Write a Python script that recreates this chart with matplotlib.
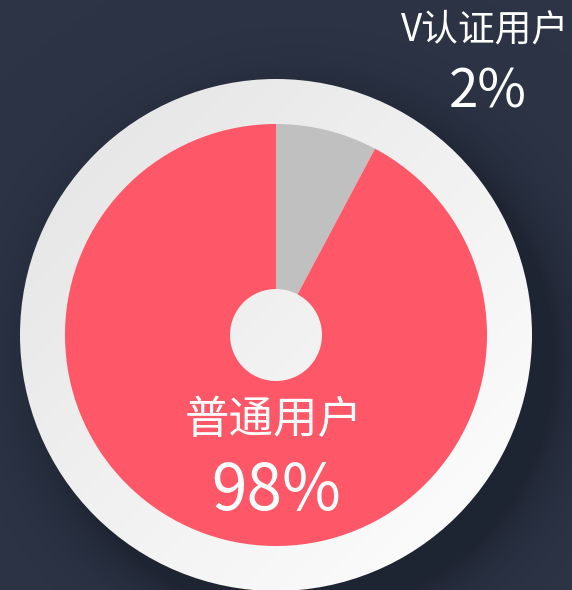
import numpy as np
import matplotlib.pyplot as plt
from matplotlib.patches import Circle

plt.rcParams['font.family'] = ['Noto Sans CJK SC', 'DejaVu Sans']

# data
labels = ['V认证用户', '普通用户']
values = [2, 98]
colors = ['#c0c0c0', '#fe5767']
min_angle = 28  # smallest slice is drawn at least this wide

W, H = 572, 590
cx, cy = 276, 590 - 335
r_outer, r_pie, r_hole = 256, 211, 46

fig = plt.figure(figsize=(W / 100, H / 100), dpi=100)
fig.patch.set_facecolor('#2c3446')
ax = fig.add_axes([0, 0, 1, 1])
ax.set_xlim(0, W)
ax.set_ylim(0, H)
ax.set_aspect('equal')
ax.axis('off')

# soft shadow to the lower right of the plate
yy, xx = np.mgrid[0:H, 0:W]
d = np.hypot(xx - (cx + 22), yy - (cy - 26)) - r_outer
shadow = np.zeros((H, W, 4))
shadow[..., :3] = np.array([22, 27, 38]) / 255
shadow[..., 3] = np.clip(0.6 * np.exp(-np.clip(d, 0, None) / 30), 0, 0.6)
ax.imshow(shadow, extent=[0, W, 0, H], origin='lower', zorder=1)

# white plate with a light gradient
g = ((xx - cx) - (yy - cy)) / (2 * r_outer)
g = np.clip(0.5 + 0.5 * g, 0, 1)
plate = np.zeros((H, W, 4))
shade = 0.89 + 0.11 * g
plate[..., 0] = shade
plate[..., 1] = shade
plate[..., 2] = shade
plate[..., 3] = 1
im = ax.imshow(plate, extent=[0, W, 0, H], origin='lower', zorder=2)
clip = Circle((cx, cy), r_outer, transform=ax.transData)
im.set_clip_path(clip)

# slice angles with a minimum angle
total = sum(values)
angles = [v / total * 360 for v in values]
small = [a < min_angle for a in angles]
fixed = sum(min_angle for s in small if s)
rest = sum(a for a, s in zip(angles, small) if not s)
angles = [min_angle if s else a * (360 - fixed) / rest for a, s in zip(angles, small)]

ax.pie(angles, colors=colors, startangle=90, counterclock=False,
       center=(cx, cy), radius=r_pie, frame=True,
       wedgeprops=dict(width=r_pie - r_hole, linewidth=0, zorder=3))
ax.set_xlim(0, W)
ax.set_ylim(0, H)
ax.axis('off')

# labels
ax.text(485, 590 - 30, labels[0], color='white', fontsize=26.5, ha='center', va='center', zorder=5)
ax.text(488, 590 - 92, f'{values[0]}%', color='white', fontsize=38, ha='center', va='center', zorder=5)
ax.text(274, 590 - 420, labels[1], color='white', fontsize=32, ha='center', va='center', zorder=5)
ax.text(276, 590 - 492, f'{values[1]}%', color='white', fontsize=46, ha='center', va='center', zorder=5)

fig.savefig('out.png', dpi=100, facecolor=fig.get_facecolor())
